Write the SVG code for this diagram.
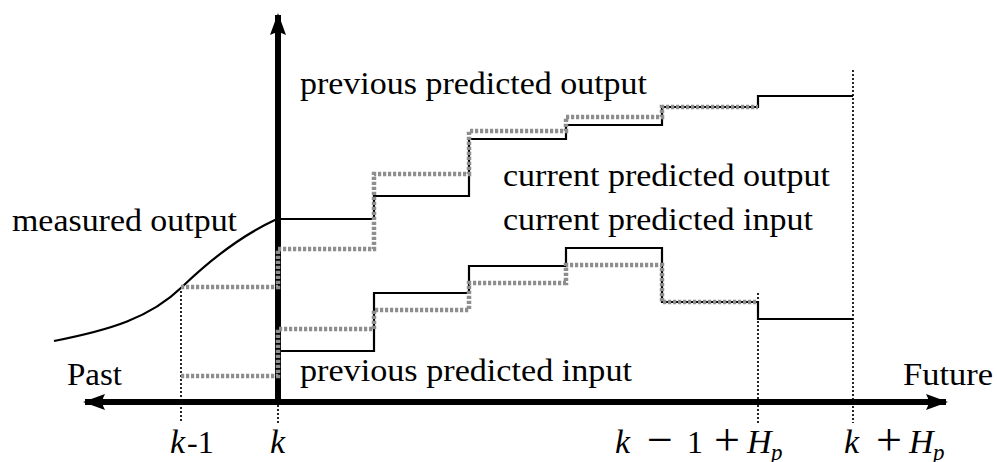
<svg xmlns="http://www.w3.org/2000/svg" width="997" height="462" viewBox="0 0 997 462">
<style>
.lbl{font-family:"Liberation Serif","Times New Roman",serif;font-size:32px;fill:#000}
.math{font-family:"Liberation Serif","Times New Roman",serif;font-size:32px;fill:#000}
.var{font-size:34px;font-style:italic}
.op{font-size:46px}
.sub{font-size:23px;font-style:italic}
.axis{stroke:#000;stroke-width:6;fill:none}
.guide{stroke:#000;stroke-width:1.7;stroke-dasharray:2 2;fill:none}
.cur{stroke:#000;stroke-width:2.2;fill:none}
.prev{stroke:#8e8e8e;stroke-width:4.5;stroke-dasharray:3.2 1.8;fill:none}
</style>
<defs>
<marker id="arr" viewBox="0 0 22 16" refX="20" refY="8" markerWidth="22" markerHeight="16" markerUnits="userSpaceOnUse" orient="auto-start-reverse">
<path d="M0,0 L22,8 L0,16 Q5,8 0,0 Z" fill="#000"/>
</marker>
</defs>
<rect width="997" height="462" fill="#fff"/>
<g id="guides">
<line class="guide" x1="181" y1="287" x2="181" y2="423"/>
<line class="guide" x1="278" y1="405" x2="278" y2="423"/>
<line class="guide" x1="758" y1="293" x2="758" y2="423"/>
<line class="guide" x1="853" y1="70" x2="853" y2="423"/>
</g>
<g id="axes">
<line class="axis" x1="85" y1="402" x2="946" y2="402" marker-start="url(#arr)" marker-end="url(#arr)"/>
<line class="axis" x1="278" y1="405" x2="278" y2="15" marker-end="url(#arr)"/>
</g>
<g id="measured-output">
<path class="cur" d="M54,341 C110,330 150,318 182,287 C210,260 240,236 277,219"/>
</g>
<g id="current-predicted-output">
<path class="cur" d="M278,219 H374 V196 H469 V139 H566 V125 H662 V107 H758 V96 H853"/>
</g>
<g id="current-predicted-input">
<path class="cur" d="M278,351 H374 V293 H469 V266 H566 V248 H662 V302 H758 V319 H853"/>
</g>
<g id="previous-predicted-output">
<path class="prev" d="M181,287 H278 V249 H374 V174 H469 V131 H566 V117 H662 V107 H758"/>
</g>
<g id="previous-predicted-input">
<path class="prev" d="M181,376 H278 V329 H374 V310 H469 V283 H566 V265 H662 V302 H758"/>
</g>
<g id="labels">
<text class="lbl" x="300" y="94" textLength="347" lengthAdjust="spacingAndGlyphs">previous predicted output</text>
<text class="lbl" x="12" y="231" textLength="225" lengthAdjust="spacingAndGlyphs">measured output</text>
<text class="lbl" x="503" y="186" textLength="327" lengthAdjust="spacingAndGlyphs">current predicted output</text>
<text class="lbl" x="503" y="230" textLength="310" lengthAdjust="spacingAndGlyphs">current predicted input</text>
<text class="lbl" x="300" y="381" textLength="332" lengthAdjust="spacingAndGlyphs">previous predicted input</text>
<text class="lbl" x="67" y="385" textLength="55" lengthAdjust="spacingAndGlyphs">Past</text>
<text class="lbl" x="903" y="385" textLength="90" lengthAdjust="spacingAndGlyphs">Future</text>
</g>
<g id="ticks">
<text class="math" y="453"><tspan class="var" x="170">k</tspan><tspan x="187">-1</tspan></text>
<text class="math var" x="270" y="453">k</text>
<text class="math" y="453"><tspan class="var" x="615">k</tspan><tspan class="op" x="647" y="455">−</tspan><tspan x="687" y="453">1</tspan><tspan class="op" x="714" y="455">+</tspan><tspan class="var" x="747" y="453">H</tspan><tspan class="sub" x="771" y="460">p</tspan></text>
<text class="math" y="453"><tspan class="var" x="844">k</tspan><tspan class="op" x="876" y="455">+</tspan><tspan class="var" x="909" y="453">H</tspan><tspan class="sub" x="933" y="460">p</tspan></text>
</g>
</svg>
